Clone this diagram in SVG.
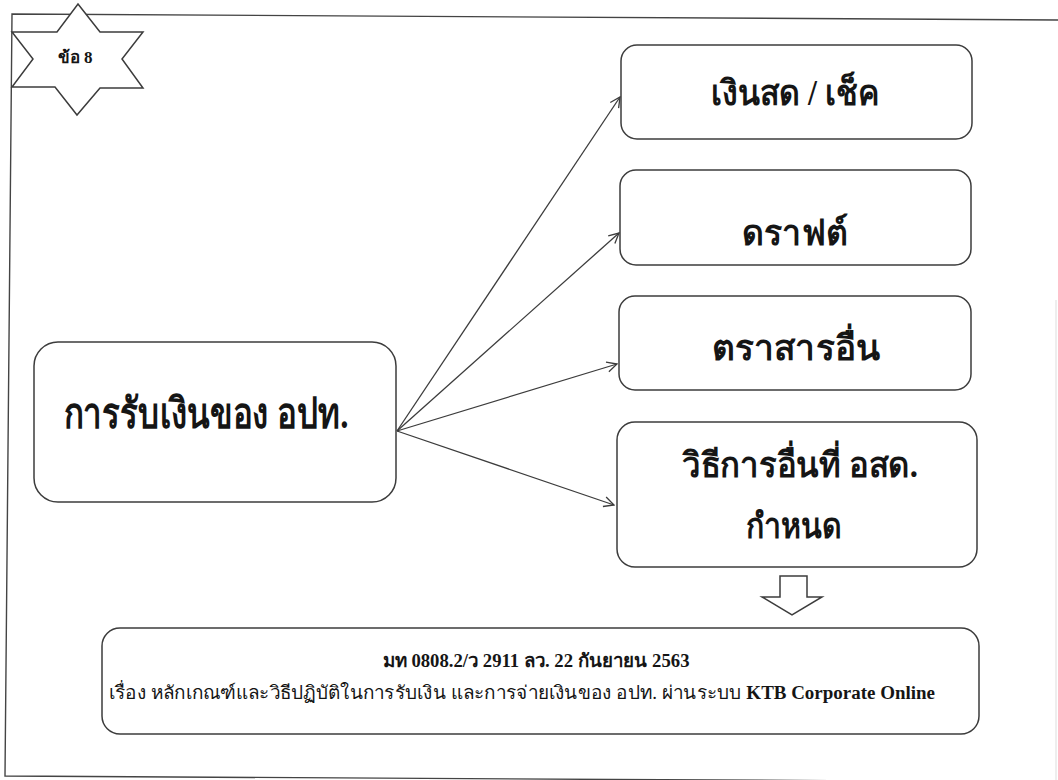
<svg xmlns="http://www.w3.org/2000/svg" width="1058" height="780" viewBox="0 0 1058 780">
  <defs>
    <style>
      .frame { fill: none; stroke: #444; stroke-width: 1.4; }
      .box { fill: #fff; stroke: #3c3c3c; stroke-width: 1.5; }
      .conn { fill: none; stroke: #3c3c3c; stroke-width: 1.3; }
      .t { font-family: "Liberation Serif", serif; fill: #151515; text-anchor: middle; }
      .big { font-size: 35px; font-weight: bold; }
      .main { font-size: 42px; font-weight: bold; }
      .small { font-size: 18.5px; }
    </style>
    <marker id="arr" viewBox="0 0 12 12" refX="11" refY="6" markerWidth="12" markerHeight="12" markerUnits="userSpaceOnUse" orient="auto">
      <path d="M1,1 L11,6 L1,11" fill="none" stroke="#3c3c3c" stroke-width="1.3"/>
    </marker>
  </defs>
  <rect width="1058" height="780" fill="#fff"/>
  <g id="frame">
    <path class="frame" d="M1058,20 L12,14 L5,776 L1058,782"/>
    <line x1="1056" y1="300" x2="1056" y2="780" stroke="#ddd" stroke-width="1"/>
  </g>
  <g id="star">
    <polygon class="box" points="78,4 100,32 143,32 122,59 143,88 100,88 77,115 55,87 12,87 33,59 12,32 57,32"/>
    <text class="t" x="75" y="63" font-size="17" font-weight="bold">ข้อ 8</text>
  </g>
  <g id="connectors">
    <line class="conn" x1="397" y1="431" x2="620" y2="97" marker-end="url(#arr)"/>
    <line class="conn" x1="397" y1="431" x2="619" y2="233" marker-end="url(#arr)"/>
    <line class="conn" x1="397" y1="431" x2="617" y2="364" marker-end="url(#arr)"/>
    <line class="conn" x1="397" y1="431" x2="614" y2="505" marker-end="url(#arr)"/>
  </g>
  <g id="source">
    <rect class="box" x="34" y="342" width="362" height="160" rx="24"/>
    <text class="t main" x="206" y="428" textLength="285" lengthAdjust="spacingAndGlyphs">การรับเงินของ อปท.</text>
  </g>
  <g id="cash">
    <rect class="box" x="621" y="45" width="351" height="94" rx="16"/>
    <text class="t big" x="795" y="105" textLength="168" lengthAdjust="spacingAndGlyphs">เงินสด / เช็ค</text>
  </g>
  <g id="draft">
    <rect class="box" x="620" y="170" width="351" height="95" rx="16"/>
    <text class="t big" x="795" y="245" textLength="106" lengthAdjust="spacingAndGlyphs">ดราฟต์</text>
  </g>
  <g id="instrument">
    <rect class="box" x="619" y="296" width="352" height="94" rx="16"/>
    <text class="t big" x="796" y="360" textLength="168" lengthAdjust="spacingAndGlyphs">ตราสารอื่น</text>
  </g>
  <g id="other">
    <rect class="box" x="617" y="422" width="360" height="145" rx="18"/>
    <text class="t big" x="800" y="477" textLength="236" lengthAdjust="spacingAndGlyphs">วิธีการอื่นที่ อสด.</text>
    <text class="t big" x="794" y="538" textLength="96" lengthAdjust="spacingAndGlyphs">กำหนด</text>
  </g>
  <g id="down-arrow">
    <polygon class="box" points="780,576 807,576 807,597 822,597 792,615 762,597 780,597"/>
  </g>
  <g id="reference">
    <rect class="box" x="102" y="628" width="877" height="106" rx="18"/>
    <text class="t small" x="536" y="667" font-weight="bold" textLength="307" lengthAdjust="spacingAndGlyphs">มท 0808.2/ว 2911 ลว. 22 กันยายน 2563</text>
    <text class="t small" x="522" y="699" textLength="826" lengthAdjust="spacingAndGlyphs">เรื่อง หลักเกณฑ์และวิธีปฏิบัติในการรับเงิน และการจ่ายเงินของ อปท. ผ่านระบบ  <tspan font-weight="bold">KTB Corporate Online</tspan></text>
  </g>
</svg>
